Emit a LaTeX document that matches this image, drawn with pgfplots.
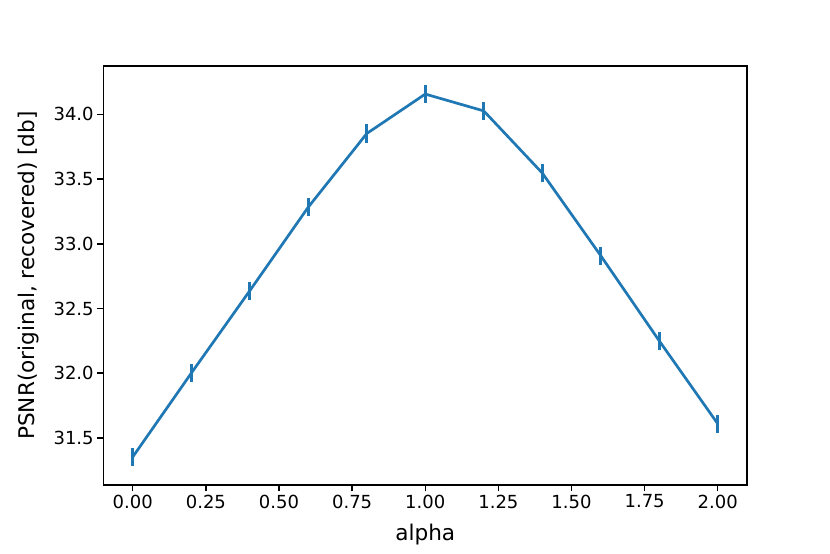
\documentclass[border=0pt]{standalone}
\usepackage{pgfplots}
\pgfplotsset{compat=1.18}
\usepackage{fontspec}
\setmainfont{DejaVu Sans}
\definecolor{tabblue}{HTML}{1F77B4}
\begin{document}
\begin{tikzpicture}
\begin{axis}[
  scale only axis,
  width=643.5pt, height=419pt,
  xmin=-0.1, xmax=2.1,
  ymin=31.136, ymax=34.374,
  xtick={0,0.25,0.5,0.75,1,1.25,1.5,1.75,2},
  ytick={31.5,32,32.5,33,33.5,34},
  xticklabel style={/pgf/number format/.cd,fixed,fixed zerofill,precision=2},
  yticklabel style={/pgf/number format/.cd,fixed,fixed zerofill,precision=1},
  /pgf/number format/assume math mode=true,
  tick align=outside,
  xtick pos=bottom, ytick pos=left,
  major tick length=6.3pt,
  every tick/.style={black, line width=1.44pt},
  axis line style={line width=1.44pt},
  tick label style={font=\fontsize{18}{21}\selectfont},
  label style={font=\fontsize{21.6}{25}\selectfont},
  xlabel={alpha},
  ylabel={PSNR(original, recovered) [db]},
  xlabel style={at={(axis description cs:0.5,-0.119)},anchor=center},
  ylabel style={at={(axis description cs:-0.117,0.5)},anchor=center},
]
\addplot[color=tabblue, line width=2.7pt, mark=none,
  error bars/.cd, y dir=both, y explicit, error mark=none,
  error bar style={line width=2.7pt, tabblue}]
coordinates {
  (0.0,31.353) +- (0,0.07)
  (0.2,32.000) +- (0,0.07)
  (0.4,32.637) +- (0,0.07)
  (0.6,33.283) +- (0,0.07)
  (0.8,33.852) +- (0,0.07)
  (1.0,34.157) +- (0,0.07)
  (1.2,34.027) +- (0,0.07)
  (1.4,33.547) +- (0,0.07)
  (1.6,32.908) +- (0,0.07)
  (1.8,32.250) +- (0,0.07)
  (2.0,31.609) +- (0,0.07)
};
\end{axis}
\path ([shift={(-103.5pt,-69pt)}]current axis.south west) rectangle ([shift={(83pt,66pt)}]current axis.north east);
\end{tikzpicture}
\end{document}
